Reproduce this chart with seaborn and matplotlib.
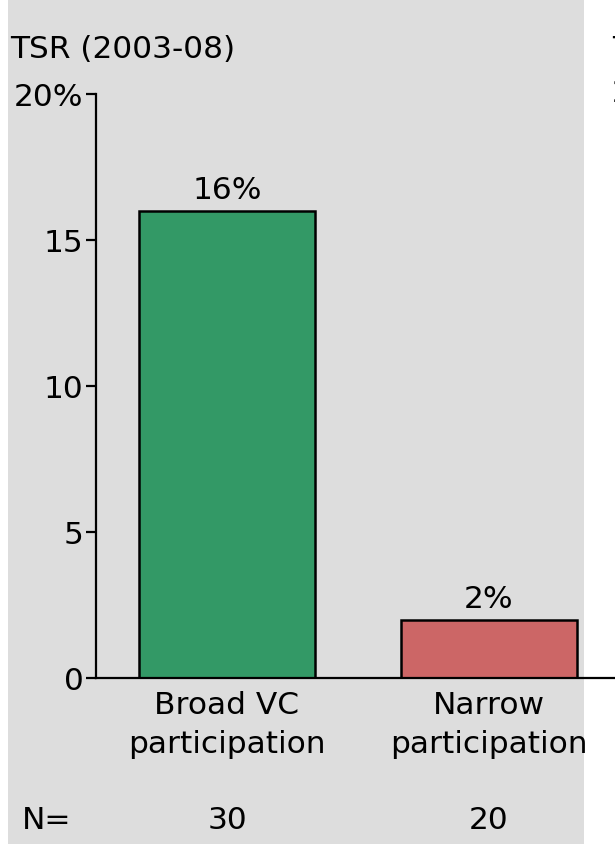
import matplotlib
matplotlib.use("Agg")
import matplotlib.pyplot as plt
import matplotlib.patches as mpatches
import matplotlib.transforms as mtransforms
import pandas as pd
import seaborn as sns

# Chart data
categories = ["Broad VC\nparticipation", "Narrow\nparticipation"]
tsr_values = [16, 2]
sample_sizes = [30, 20]
bar_colors = ["#339966", "#cc6666"]
y_ticks = [0, 5, 10, 15, 20]
y_tick_labels = ["0", "5", "10", "15", "20%"]

sns.set_theme(style="white")
plt.rcParams["font.family"] = ["DejaVu Sans"]
plt.rcParams["text.color"] = "black"
plt.rcParams["xtick.color"] = "black"
plt.rcParams["ytick.color"] = "black"
FS = 22.5

W, H = 615, 846
fig = plt.figure(figsize=(W / 100, H / 100), dpi=100)
fig.patch.set_facecolor("white")

# grey panel behind the chart
fig.patches.append(mpatches.Rectangle((8 / W, 2 / H), (584 - 8) / W, (H - 2) / H,
                                      transform=fig.transFigure, facecolor="#dddddd",
                                      edgecolor="none", zorder=-5))

ax_left, ax_bottom = 96 / W, (H - 678) / H
ax_top = (H - 94) / H
ax_w = (2.1 * 262) / W
ax = fig.add_axes([ax_left, ax_bottom, ax_w, ax_top - ax_bottom])
ax.set_facecolor("none")

df = pd.DataFrame({"group": categories, "tsr": tsr_values})
sns.barplot(data=df, x="group", y="tsr", hue="group", palette=bar_colors,
            order=categories, hue_order=categories, width=0.668,
            edgecolor="black", linewidth=1.8, legend=False, ax=ax, saturation=1)

for cont, v in zip(ax.containers, tsr_values):
    ax.bar_label(cont, labels=[f"{v}%"], padding=4, fontsize=FS, color="black")

ax.set_xlim(-0.5, 1.6)
ax.set_ylim(0, 20)
ax.set_yticks(y_ticks)
ax.set_yticklabels(y_tick_labels, fontsize=FS)
ax.set_xticks(range(len(categories)))
ax.set_xticklabels(categories, fontsize=FS, linespacing=1.45)
ax.set_xlabel("")
ax.set_ylabel("")
ax.tick_params(axis="y", length=7, width=1.6, pad=2, colors="black", left=True)
ax.tick_params(axis="x", length=0, pad=9, colors="black")
for side in ("top", "right"):
    ax.spines[side].set_visible(False)
for side in ("left", "bottom"):
    ax.spines[side].set_color("black")
    ax.spines[side].set_linewidth(1.6)

# axis title and sample sizes
fig.text(10 / W, 1 - 50 / H, "TSR (2003-08)", fontsize=FS, va="center", ha="left")
fig.text(22 / W, 1 - 820 / H, "N=", fontsize=FS, va="center", ha="left")
blend = mtransforms.blended_transform_factory(ax.transData, fig.transFigure)
for i, n in enumerate(sample_sizes):
    ax.text(i, 1 - 820 / H, str(n), transform=blend, fontsize=FS,
            ha="center", va="center", clip_on=False)

# start of the neighbouring panel at the right edge
fig.text(612 / W, 1 - 50 / H, "TSR (2003-08)", fontsize=FS, va="center", ha="left")
fig.text(612 / W, 1 - 94 / H, "20%", fontsize=FS, va="center", ha="left")
fig.text(612 / W, 1 - 820 / H, "N=", fontsize=FS, va="center", ha="left")

fig.savefig("out.png", dpi=100)
